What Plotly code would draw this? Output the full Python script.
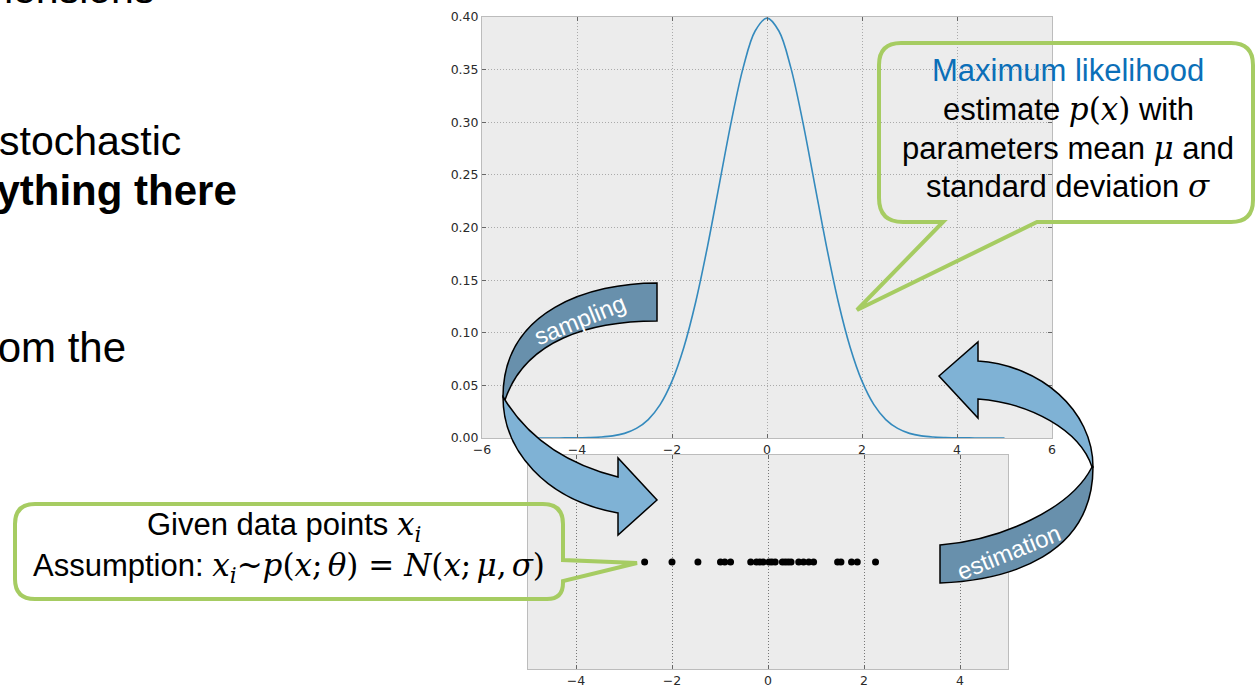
import re
import plotly.graph_objects as go

W, H = 1256, 688

# ---------------- data ----------------
curve_x = [-5.0, -4.75, -4.5, -4.25, -4.0, -3.75, -3.5, -3.25, -3.0, -2.75, -2.5, -2.25, -2.0,
           -1.75, -1.5, -1.25, -1.0, -0.75, -0.5, -0.25, 0.0, 0.25, 0.5, 0.75, 1.0, 1.25, 1.5,
           1.75, 2.0, 2.25, 2.5, 2.75, 3.0, 3.25, 3.5, 3.75, 4.0, 4.25, 4.5, 4.75, 5.0]
curve_y = [0.0000, 0.0000, 0.0000, 0.0001, 0.0001, 0.0004, 0.0009, 0.0020, 0.0044, 0.0091, 0.0175,
           0.0317, 0.0540, 0.0863, 0.1295, 0.1826, 0.2420, 0.3011, 0.3521, 0.3867, 0.3989, 0.3867,
           0.3521, 0.3011, 0.2420, 0.1826, 0.1295, 0.0863, 0.0540, 0.0317, 0.0175, 0.0091, 0.0044,
           0.0020, 0.0009, 0.0004, 0.0001, 0.0001, 0.0000, 0.0000, 0.0000]

sample_x = [-2.57, -2.00, -1.46, -0.99, -0.90, -0.78, -0.36, -0.24, -0.17, -0.10, 0.02, 0.08,
            0.15, 0.30, 0.36, 0.42, 0.48, 0.64, 0.74, 0.85, 0.95, 1.45, 1.52, 1.74, 1.86, 2.24]
sample_y = [0, 0, 0, 0, 0, 0, 0, 0, 0, 0, 0, 0, 0, 0, 0, 0, 0, 0, 0, 0, 0, 0, 0, 0, 0, 0]

top_xticks = [-6, -4, -2, 0, 2, 4, 6]
top_yticks = [0.00, 0.05, 0.10, 0.15, 0.20, 0.25, 0.30, 0.35, 0.40]
bottom_xticks = [-4, -2, 0, 2, 4]


# ---------------- helpers (pixel -> paper) ----------------
def px(x):
    return x / W


def py(y):
    return 1 - y / H


def to_paper(d):
    return re.sub(r"(-?\d+(?:\.\d+)?),(-?\d+(?:\.\d+)?)",
                  lambda m: f"{float(m.group(1)) / W:.5f},{1 - float(m.group(2)) / H:.5f}", d)


TICKFONT = dict(family="DejaVu Sans", size=12.5, color="#2a2a2a")
GREEN = "#A6CC62"
LIGHT = "#7FB2D5"
DARK = "#6890AC"

fig = go.Figure()
fig.add_trace(go.Scatter(x=curve_x, y=curve_y, mode="lines", xaxis="x", yaxis="y",
                         line=dict(color="#348ABD", width=1.6, shape="spline"),
                         showlegend=False, hoverinfo="skip"))
fig.add_trace(go.Scatter(x=sample_x, y=sample_y, mode="markers", xaxis="x2", yaxis="y2",
                         marker=dict(color="black", size=7),
                         showlegend=False, hoverinfo="skip"))

axis_common = dict(showline=True, linecolor="#bcbcbc", linewidth=1, mirror="ticks",
                   ticks="inside", ticklen=4, tickcolor="#666666", tickfont=TICKFONT,
                   zeroline=False, griddash="1px,2px", gridwidth=1, automargin=False)

fig.update_layout(
    template="none",
    width=W, height=H, autosize=False,
    margin=dict(l=0, r=0, t=0, b=0, pad=0),
    paper_bgcolor="white", plot_bgcolor="#ececec",
    xaxis=dict(domain=[px(482), px(1052)], range=[-6, 6], tickvals=top_xticks,
               anchor="y", showgrid=True, gridcolor="#aaaaaa", **axis_common),
    yaxis=dict(domain=[py(438), py(17)], range=[0, 0.40], tickvals=top_yticks,
               tickformat=".2f", anchor="x", showgrid=True, gridcolor="#aaaaaa", **axis_common),
    xaxis2=dict(domain=[px(528), px(1008)], range=[-5, 5], tickvals=bottom_xticks,
                anchor="y2", showgrid=True, gridcolor="#777777", **axis_common),
    yaxis2=dict(domain=[py(669), py(455)], range=[-1, 1], anchor="x2", showgrid=False,
                showticklabels=False, showline=True, linecolor="#bcbcbc", mirror=True,
                ticks="", zeroline=False, automargin=False),
)

# ---------------- arrows & bubbles ----------------
shapes = []
# sampling arrow
shapes.append(dict(type="path", xref="paper", yref="paper", layer="above",
                   path=to_paper("M 657,283 C 590,283 503,310 503,397 L 505,400 C 525,340 590,321 657,321 Z"),
                   fillcolor=DARK, line=dict(color="black", width=1.5)))
shapes.append(dict(type="path", xref="paper", yref="paper", layer="above",
                   path=to_paper("M 503,397 C 503,450 545,500 618,513 L 618,535 L 657,500 L 618,458 "
                                 "L 618,477 C 570,465 530,440 505,400 Z"),
                   fillcolor=LIGHT, line=dict(color="black", width=1.5)))
# estimation arrow
shapes.append(dict(type="path", xref="paper", yref="paper", layer="above",
                   path=to_paper("M 1092,467 C 1080,430 1030,403 978,399 L 978,418 L 939,376 L 978,342 "
                                 "L 978,361 C 1040,365 1093,410 1093,467 Z"),
                   fillcolor=LIGHT, line=dict(color="black", width=1.5)))
shapes.append(dict(type="path", xref="paper", yref="paper", layer="above",
                   path=to_paper("M 1092,467 C 1070,510 1000,540 940,545 L 940,583 C 1010,580 1093,555 1093,467 Z"),
                   fillcolor=DARK, line=dict(color="black", width=1.5)))
# top-right callout
shapes.append(dict(type="path", xref="paper", yref="paper", layer="above",
                   path=to_paper("M 901,43 L 1231,43 Q 1253,43 1253,65 L 1253,200 Q 1253,222 1231,222 "
                                 "L 1037,222 L 857,310 L 943,222 L 903,222 Q 879,222 879,198 L 879,65 "
                                 "Q 879,43 901,43 Z"),
                   fillcolor="rgba(0,0,0,0)", line=dict(color=GREEN, width=4)))
# bottom-left callout
shapes.append(dict(type="path", xref="paper", yref="paper", layer="above",
                   path=to_paper("M 35,504 L 543,504 Q 563,504 563,524 L 563,560 L 637,563 L 563,581 "
                                 "L 563,583 Q 563,599 547,599 L 35,599 Q 15,599 15,579 L 15,524 "
                                 "Q 15,504 35,504 Z"),
                   fillcolor="rgba(0,0,0,0)", line=dict(color=GREEN, width=4)))
fig.update_layout(shapes=shapes)

# ---------------- text ----------------
SANS = "Liberation Sans, Arial, sans-serif"
M = "<span style=\"font-family:'DejaVu Serif'\">"
TS = "\u2006"
anns = []


def txt(text, x, y, size, color="black", xanchor="center", angle=0, family=SANS):
    anns.append(dict(text=text, x=px(x), y=py(y), xref="paper", yref="paper",
                     xanchor=xanchor, yanchor="middle", showarrow=False, textangle=angle,
                     font=dict(family=family, size=size, color=color)))


# slide body text (partially hidden at the left edge)
txt("dimensions", 156, -11, 41, xanchor="right")
txt("stochastic", 183, 141, 41, xanchor="right")
txt("<b>everything there</b>", 239, 191, 42, xanchor="right")
txt("from the", 128, 347, 42, xanchor="right")

# callout texts
txt("Maximum likelihood", 1068, 71, 31, color="#0B6FB8")
txt("estimate " + M + "<i>p</i>(<i>x</i>)</span> with", 1068, 109, 31)
txt("parameters mean " + M + "<i>μ</i></span> and", 1068, 148, 31)
txt("standard deviation " + M + "<i>σ</i></span>", 1068, 186, 31)

txt("Given data points " + M + "<i>x<sub>i</sub></i></span>", 284, 526, 31)
txt("Assumption: " + M + "<i>x<sub>i</sub></i>~<i>p</i>(<i>x</i>;" + TS + "<i>θ</i>) = "
    "<i>N</i>(<i>x</i>;" + TS + "<i>μ</i>," + TS + "<i>σ</i>)</span>", 289, 567, 31)

# arrow labels
txt("sampling", 580, 320, 24, color="white", angle=-22)
txt("estimation", 1008, 552, 24, color="white", angle=-22)

fig.update_layout(annotations=anns)

fig.write_html("out.html", config={"displayModeBar": False},
               post_script="document.body.style.margin='0';document.body.style.overflow='hidden';")
